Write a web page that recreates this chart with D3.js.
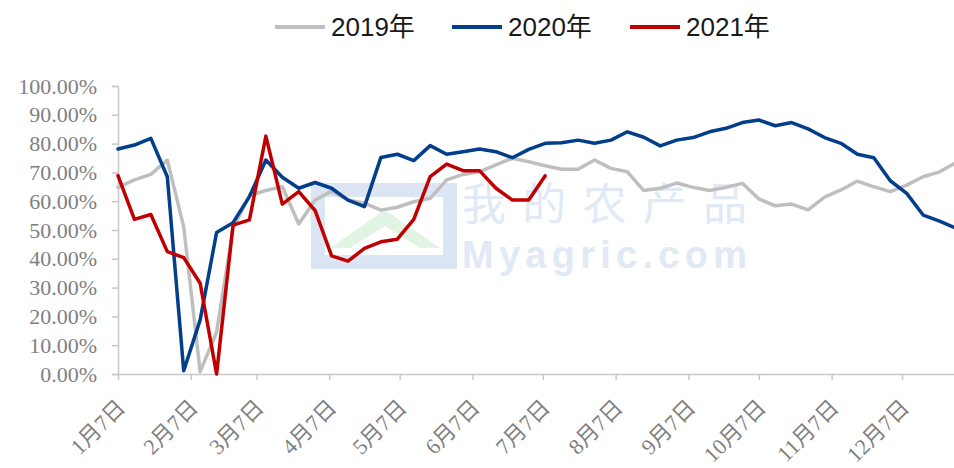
<!DOCTYPE html>
<html>
<head>
<meta charset="utf-8">
<script src="https://cdn.jsdelivr.net/npm/d3@7/dist/d3.min.js"></script>
<style>
html,body{margin:0;padding:0;background:#fff;}
svg{display:block;}
</style>
</head>
<body>
<svg id="chart" width="954" height="468"></svg>
<script>
// ---- data ----
const weeks = ["01-07","01-14","01-21","01-28","02-04","02-11","02-18","02-25",
  "03-04","03-11","03-18","03-25","04-01","04-08","04-15","04-22","04-29",
  "05-06","05-13","05-20","05-27","06-03","06-10","06-17","06-24",
  "07-01","07-08","07-15","07-22","07-29","08-05","08-12","08-19","08-26",
  "09-02","09-09","09-16","09-23","09-30","10-07","10-14","10-21","10-28",
  "11-04","11-11","11-18","11-25","12-02","12-09","12-16","12-23","12-30"];

const s2019 = [64.8,67.4,69.3,74.3,51.1,0.8,14.5,50.5,62.0,63.7,65.0,52.1,60.4,63.5,60.4,59.3,56.9,
  57.9,59.8,61.0,67.4,69.3,70.2,72.6,74.9,73.7,72.3,71.1,71.1,74.3,71.4,70.2,63.7,64.5,66.3,
  64.8,63.7,64.8,66.2,60.8,58.4,59.0,57.0,61.4,63.9,67.0,65.0,63.3,65.6,68.5,70.2,73.4];
const s2020 = [78.1,79.5,81.8,68.5,1.1,18.8,49.1,52.5,61.6,74.3,68.3,64.5,66.5,64.5,60.4,58.1,75.2,
  76.3,74.1,79.3,76.3,77.2,78.1,77.2,75.1,78.0,80.1,80.3,81.2,80.1,81.2,84.1,82.2,79.2,81.2,
  82.1,84.1,85.3,87.3,88.2,86.2,87.3,85.1,82.1,80.1,76.3,75.1,67.1,62.7,55.2,53.1,50.6];
const s2021 = [68.9,53.7,55.4,42.5,40.4,31.5,0.0,51.7,53.5,82.6,59.0,63.3,56.7,41.0,39.2,43.6,45.9,
  46.8,53.7,68.5,72.9,70.6,70.6,64.5,60.4,60.4,68.8];

const seriesNames = ["2019年","2020年","2021年"];
const seriesColors = ["#bfbfbf","#023e8a","#c00000"];

const tickDates = ["01-07","02-07","03-07","04-07","05-07","06-07","07-07","08-07","09-07","10-07","11-07","12-07"];
const tickLabels = ["1月7日","2月7日","3月7日","4月7日","5月7日","6月7日","7月7日","8月7日","9月7日","10月7日","11月7日","12月7日"];
const yTicks = [0,0.1,0.2,0.3,0.4,0.5,0.6,0.7,0.8,0.9,1.0];

// ---- chart ----
const svg = d3.select("#chart");
const parse = s => d3.timeParse("%Y-%m-%d")("2021-" + s);
const x = d3.scaleTime().domain([parse("01-07"), parse("12-30")]).range([118, 956]);
const y = d3.scaleLinear().domain([0, 1]).range([374, 86]);

const axisColor = "#c8c8c8";
const labelColor = "#7f7f7f";

// watermark
const wm = svg.append("g").attr("opacity", 0.5);
wm.append("rect").attr("x", 318).attr("y", 190).attr("width", 132).attr("height", 72)
  .attr("fill", "none").attr("stroke", "#b8cde8").attr("stroke-width", 14);
wm.append("path").attr("d", "M330,248 L385,210 L440,248 L420,248 L385,226 L350,248 Z").attr("fill", "#c6eccb");
wm.append("text").attr("x", 462).attr("y", 220).attr("font-family", "Noto Sans CJK SC")
  .attr("font-size", 44).attr("fill", "#c3d4ec").attr("textLength", 285).text("我的农产品");
wm.append("text").attr("x", 462).attr("y", 268).attr("font-family", "Liberation Sans, Arial")
  .attr("font-weight", "bold").attr("font-size", 38).attr("fill", "#c3d4ec").attr("textLength", 285).text("Myagric.com");

// y axis
const yAxis = svg.append("g").attr("transform", "translate(118,0)")
  .call(d3.axisLeft(y).tickValues(yTicks).tickFormat(d3.format(".2%")).tickSize(6).tickPadding(15));
yAxis.select(".domain").attr("stroke", axisColor).attr("stroke-width", 1.5);
yAxis.selectAll(".tick line").attr("stroke", axisColor).attr("stroke-width", 1.5);
yAxis.selectAll(".tick text").attr("fill", labelColor)
  .attr("font-family", "Liberation Serif, Times New Roman, serif").attr("font-size", 22);

// x axis
const xAxis = svg.append("g").attr("transform", "translate(0,374)")
  .call(d3.axisBottom(x).tickValues(tickDates.map(parse)).tickSizeOuter(0).tickSize(6)
    .tickFormat((d, i) => tickLabels[i]));
xAxis.select(".domain").attr("stroke", axisColor).attr("stroke-width", 1.5).attr("d", "M118,0.5H954");
xAxis.selectAll(".tick line").attr("stroke", axisColor).attr("stroke-width", 1.5);
xAxis.selectAll(".tick text")
  .attr("fill", labelColor)
  .attr("font-family", "Liberation Serif, Noto Sans CJK SC, serif").attr("font-size", 22)
  .attr("text-anchor", "end").attr("y", 0).attr("dy", 0)
  .attr("transform", "translate(8,35) rotate(-45)");

// lines
const line = d3.line().x(d => x(d.date)).y(d => y(d.v / 100));
[s2019, s2020, s2021].forEach((arr, i) => {
  const pts = arr.map((v, k) => ({date: parse(weeks[k]), v}));
  svg.append("path").datum(pts).attr("d", line).attr("fill", "none")
    .attr("stroke", seriesColors[i]).attr("stroke-width", 3.5)
    .attr("stroke-linejoin", "round").attr("stroke-linecap", "round");
});

// legend
const legX = [275, 452, 630];
seriesNames.forEach((n, i) => {
  const g = svg.append("g");
  g.append("line").attr("x1", legX[i]).attr("x2", legX[i] + 50).attr("y1", 27).attr("y2", 27)
    .attr("stroke", seriesColors[i]).attr("stroke-width", 4);
  g.append("text").attr("x", legX[i] + 56).attr("y", 36)
    .attr("font-family", "Liberation Sans, Arial, Noto Sans CJK SC, sans-serif").attr("font-size", 26)
    .attr("fill", "#1a1a1a").text(n);
});
</script>
</body>
</html>
